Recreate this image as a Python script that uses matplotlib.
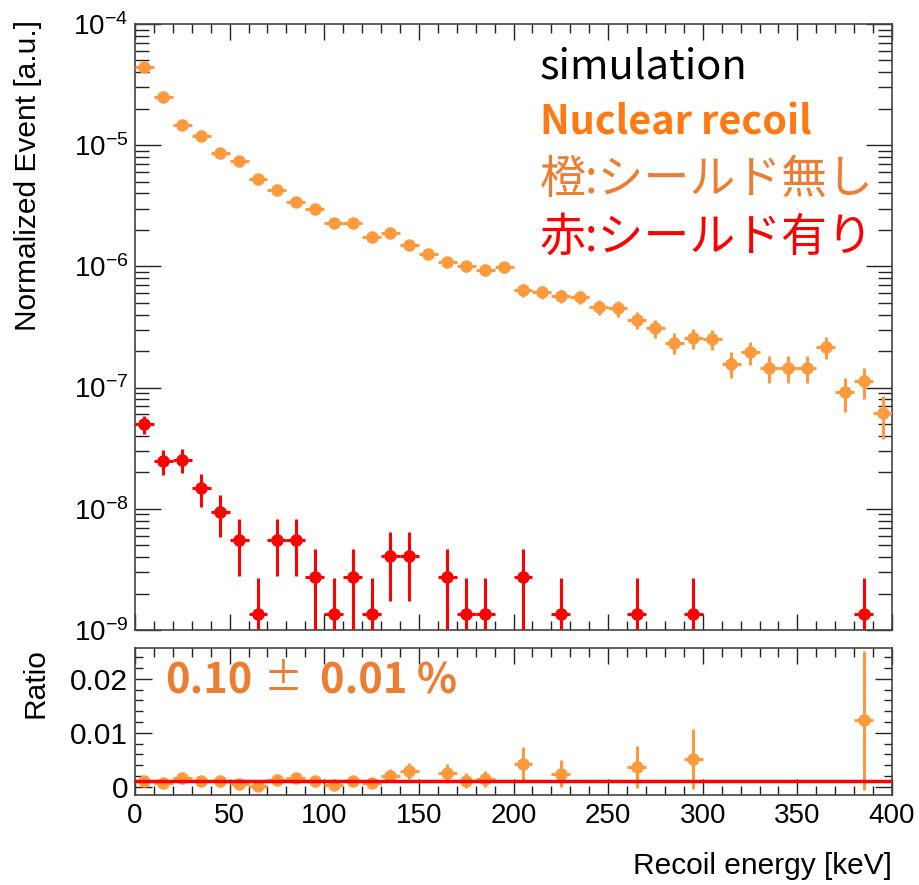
import numpy as np
import matplotlib
matplotlib.use("Agg")
from matplotlib import pyplot as plt
from matplotlib import ticker

plt.rcParams['font.family'] = ['Liberation Sans', 'DejaVu Sans']
plt.rcParams['mathtext.default'] = 'regular'

# bins are 10 keV wide
bin_half = 5

# no shield (orange)
orange_e = [5, 15, 25, 35, 45, 55, 65, 75, 85, 95, 105, 115, 125, 135, 145, 155, 165, 175, 185, 195,
            205, 215, 225, 235, 245, 255, 265, 275, 285, 295, 305, 315, 325, 335, 345, 355, 365, 375, 385, 395]
orange_val = [4.4e-5, 2.5e-5, 1.47e-5, 1.19e-5, 8.6e-6, 7.4e-6, 5.25e-6, 4.3e-6, 3.4e-6, 2.95e-6,
              2.3e-6, 2.3e-6, 1.74e-6, 1.88e-6, 1.5e-6, 1.26e-6, 1.08e-6, 1.0e-6, 0.93e-6, 0.98e-6,
              6.4e-7, 6.1e-7, 5.7e-7, 5.6e-7, 4.6e-7, 4.5e-7, 3.6e-7, 3.1e-7, 2.35e-7, 2.57e-7,
              2.5e-7, 1.57e-7, 1.97e-7, 1.45e-7, 1.45e-7, 1.45e-7, 2.16e-7, 9.2e-8, 1.13e-7, 6.2e-8]
orange_err = [6.3e-7, 4.7e-7, 3.6e-7, 3.3e-7, 2.8e-7, 2.6e-7, 2.2e-7, 2.0e-7, 1.75e-7, 1.63e-7,
              1.44e-7, 1.44e-7, 1.25e-7, 1.3e-7, 1.16e-7, 1.06e-7, 9.9e-8, 9.5e-8, 9.1e-8, 9.4e-8,
              7.6e-8, 7.4e-8, 7.2e-8, 7.1e-8, 6.4e-8, 6.4e-8, 5.7e-8, 5.3e-8, 4.6e-8, 4.8e-8,
              4.7e-8, 3.8e-8, 4.2e-8, 3.6e-8, 3.6e-8, 3.6e-8, 4.4e-8, 2.9e-8, 3.2e-8, 2.4e-8]

# with shield (red)
red_e = [5, 15, 25, 35, 45, 55, 65, 75, 85, 95, 105, 115, 125, 135, 145,
         165, 175, 185, 205, 225, 265, 295, 385]
red_val = [5.0e-8, 2.48e-8, 2.55e-8, 1.48e-8, 9.4e-9, 5.5e-9, 1.35e-9, 5.5e-9, 5.5e-9, 2.75e-9,
           1.35e-9, 2.75e-9, 1.35e-9, 4.1e-9, 4.1e-9, 2.75e-9, 1.35e-9, 1.35e-9, 2.75e-9, 1.35e-9,
           1.35e-9, 1.35e-9, 1.35e-9]
red_err = [8.2e-9, 5.8e-9, 5.9e-9, 4.5e-9, 3.6e-9, 2.7e-9, 1.349e-9, 2.7e-9, 2.7e-9, 1.9e-9,
           1.349e-9, 1.9e-9, 1.349e-9, 2.35e-9, 2.35e-9, 1.9e-9, 1.349e-9, 1.349e-9, 1.9e-9, 1.349e-9,
           1.349e-9, 1.349e-9, 1.349e-9]

# ratio red / orange
ratio_val = [0.00115, 0.0008, 0.0016, 0.00115, 0.00115, 0.0006, 0.0002, 0.0013, 0.0017, 0.001,
             0.0004, 0.00115, 0.0008, 0.0021, 0.0029, 0.0025, 0.00115, 0.0014, 0.0043, 0.0024,
             0.0037, 0.0052, 0.0123]
ratio_err = [0.0002, 0.0002, 0.0004, 0.0004, 0.0004, 0.0004, 0.0003, 0.0006, 0.0008, 0.0007,
             0.0004, 0.0007, 0.0008, 0.0012, 0.0015, 0.0018, 0.0014, 0.0015, 0.0031, 0.0025,
             0.0039, 0.0055, 0.0128]
fit_ratio = 0.0010
fit_range = [0, 400]

# axis ticks
decades = [1e-9, 1e-8, 1e-7, 1e-6, 1e-5, 1e-4]
ratio_ticks = [0, 0.01, 0.02]
ratio_labels = ['0', '0.01', '0.02']

ORANGE = '#ff9a3c'
RED = '#ff0000'

W, H = 920, 885
fig = plt.figure(figsize=(W / 100, H / 100), dpi=100)

def px(x0, y0, x1, y1):
    # pixel box -> figure fraction [left, bottom, width, height]
    return [x0 / W, 1 - y1 / H, (x1 - x0) / W, (y1 - y0) / H]

ax = fig.add_axes(px(135, 24, 892, 630))
ax2 = fig.add_axes(px(135, 648, 892, 795))

# top panel
ax.errorbar(orange_e, orange_val, xerr=bin_half, yerr=orange_err, fmt='o', color=ORANGE,
            ms=8, elinewidth=2.2, capsize=0, zorder=3)
ax.errorbar(red_e, red_val, xerr=bin_half, yerr=red_err, fmt='o', color=RED,
            ms=8, elinewidth=2.2, capsize=0, zorder=3)
ax.set_yscale('log')
ax.set_ylim(1e-9, 1e-4)
ax.set_xlim(0, 400)
ax.yaxis.set_major_locator(ticker.FixedLocator(decades))
ax.yaxis.set_major_formatter(ticker.LogFormatterSciNotation())
ax.yaxis.set_minor_locator(ticker.LogLocator(base=10, subs=np.arange(2, 10), numticks=10))
ax.yaxis.set_minor_formatter(ticker.NullFormatter())
ax.xaxis.set_major_locator(ticker.MultipleLocator(50))
ax.xaxis.set_minor_locator(ticker.MultipleLocator(10))
ax.tick_params(axis='x', labelbottom=False)

# ratio panel
ax2.errorbar(red_e, ratio_val, xerr=bin_half, yerr=ratio_err, fmt='o', color=ORANGE,
             ms=8, elinewidth=2.2, capsize=0, zorder=3)
ax2.plot(fit_range, [fit_ratio, fit_ratio], color=RED, lw=2.5, zorder=4)
ax2.set_xlim(0, 400)
ax2.set_ylim(-0.0015, 0.0257)
ax2.yaxis.set_major_locator(ticker.FixedLocator(ratio_ticks))
ax2.yaxis.set_major_formatter(ticker.FixedFormatter(ratio_labels))
ax2.yaxis.set_minor_locator(ticker.MultipleLocator(0.002))
ax2.xaxis.set_major_locator(ticker.MultipleLocator(50))
ax2.xaxis.set_minor_locator(ticker.MultipleLocator(10))

for a in (ax, ax2):
    a.tick_params(which='both', direction='in', top=True, right=True, color='#222222')
    a.tick_params(axis='x', which='major', length=11.5, width=1)
    a.tick_params(axis='x', which='minor', length=6.5, width=1)
    for s in a.spines.values():
        s.set_color('#444444')
        s.set_linewidth(1.2)

ax.tick_params(axis='y', which='major', length=19, width=1)
ax.tick_params(axis='y', which='minor', length=10, width=1)
ax2.tick_params(axis='y', which='major', length=12, width=1)
ax2.tick_params(axis='y', which='minor', length=6, width=1)

ax.tick_params(axis='y', labelsize=20, pad=5)
ax2.tick_params(axis='y', labelsize=21.5, pad=5)
ax2.tick_params(axis='x', labelsize=20, pad=6)

# axis titles (ROOT style, aligned to the end of the axis)
fig.text(28 / W, 1 - 20 / H, 'Normalized Event [a.u.]', rotation=90, ha='center', va='top', fontsize=21.5)
fig.text(35 / W, 1 - 648 / H, 'Ratio', rotation=90, ha='center', va='top', fontsize=21.5)
fig.text(892 / W, 1 - 866 / H, 'Recoil energy [keV]', ha='right', va='center', fontsize=21.5)

# annotations
cjk = ['Noto Sans CJK JP', 'DejaVu Sans']
fig.text(540 / W, 1 - 67 / H, 'simulation', color='black', fontsize=30, family=cjk, va='center')
fig.text(540 / W, 1 - 123 / H, 'Nuclear recoil', color='#ff7a12', fontsize=28.5, fontweight='bold',
         family=cjk, va='center')
fig.text(540 / W, 1 - 180 / H, '橙:シールド無し', color='#ed7d31', fontsize=33, family=cjk, va='center')
fig.text(540 / W, 1 - 237 / H, '赤:シールド有り', color=RED, fontsize=33, family=cjk, va='center')

# fitted ratio
fig.text(165 / W, 1 - 682 / H, '0.10', color='#ed7d31', fontsize=30, fontweight='bold',
         family=cjk, va='center')
fig.text(283 / W, 1 - 680 / H, '±', color='#ed7d31', fontsize=28, family=cjk, va='center', ha='center')
fig.text(320 / W, 1 - 682 / H, '0.01 %', color='#ed7d31', fontsize=30, fontweight='bold',
         family=cjk, va='center')

fig.savefig('out.png', dpi=100)
